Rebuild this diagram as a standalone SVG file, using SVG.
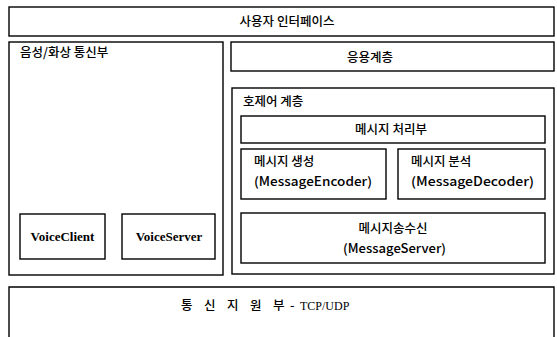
<svg xmlns="http://www.w3.org/2000/svg" width="557" height="337" viewBox="0 0 557 337">
<style>
rect{fill:#fff;stroke:#000;stroke-width:1.4}
text{font-family:"Noto Sans CJK KR","Noto Sans",sans-serif;font-size:12.5px;font-weight:500;fill:#000}
.c{text-anchor:middle}
.s{font-family:"Liberation Serif",serif;font-size:13px;font-weight:bold}
</style>
<rect x="0" y="0" width="557" height="337" style="stroke:none"/>
<g id="ui"><rect x="9" y="7" width="545" height="29"/><text class="c" x="287" y="26">사용자 인터페이스</text></g>
<g id="av"><rect x="9" y="42" width="214" height="233"/><text x="20" y="57">음성/화상 통신부</text></g>
<g id="voiceclient"><rect x="20" y="214" width="85" height="45"/><text class="s c" x="62.5" y="241">VoiceClient</text></g>
<g id="voiceserver"><rect x="122" y="214" width="93" height="45"/><text class="s c" x="169" y="241">VoiceServer</text></g>
<g id="app"><rect x="231" y="42" width="323" height="29"/><text class="c" x="370" y="62">응용계층</text></g>
<g id="callctl"><rect x="232" y="88" width="322" height="186"/><text x="243" y="106">호제어 계층</text></g>
<g id="proc"><rect x="241" y="116" width="304" height="27"/><text class="c" x="391" y="134">메시지 처리부</text></g>
<g id="enc"><rect x="241" y="149" width="145" height="50"/><text x="254" y="166">메시지 생성</text><text x="254" y="186" textLength="118" lengthAdjust="spacingAndGlyphs">(MessageEncoder)</text></g>
<g id="dec"><rect x="398" y="149" width="147" height="50"/><text x="411" y="166">메시지 분석</text><text x="411" y="186" textLength="123" lengthAdjust="spacingAndGlyphs">(MessageDecoder)</text></g>
<g id="srv"><rect x="241" y="213" width="304" height="50"/><text class="c" x="393" y="233">메시지송수신</text><text class="c" x="394.5" y="253" textLength="103" lengthAdjust="spacingAndGlyphs">(MessageServer)</text></g>
<g id="net"><path d="M9 338V287H554V338" fill="none" stroke="#000" stroke-width="1.4"/><text y="310"><tspan x="181 204 227 250 273">통신지원부</tspan><tspan x="290">-</tspan><tspan class="s" x="300" style="font-weight:normal;font-size:12px">TCP/UDP</tspan></text></g>
<g id="connectors"/>
</svg>
